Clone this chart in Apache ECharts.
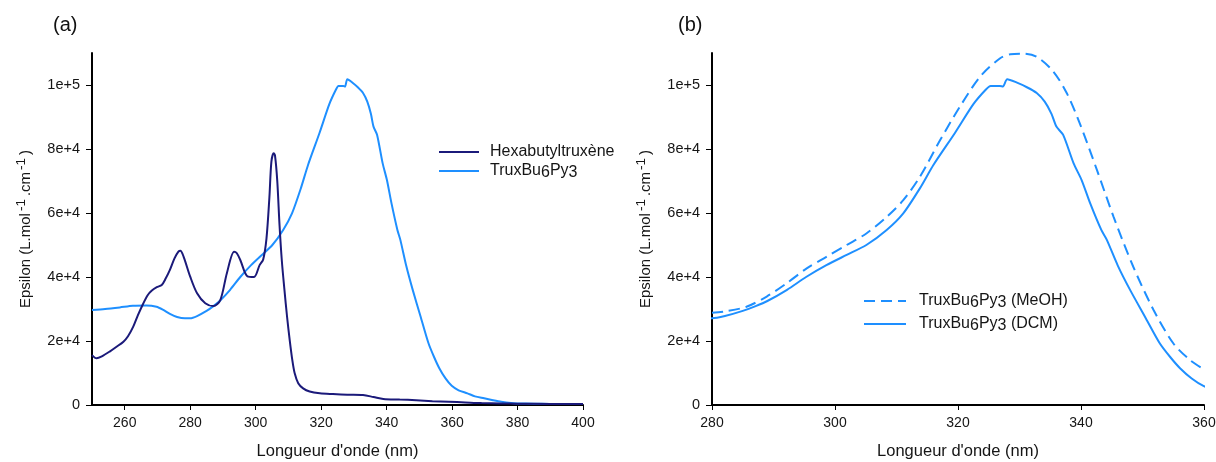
<!DOCTYPE html>
<html>
<head>
<meta charset="utf-8">
<script src="https://cdn.jsdelivr.net/npm/echarts@6/dist/echarts.min.js"></script>
<style>
html,body{margin:0;padding:0;background:#fff;}
#chart{width:1216px;height:462px;}
</style>
</head>
<body>
<div id="chart"></div>
<script>
// ---- Data ----
// Panel (a): Hexabutyltruxène
const hexaNm = [250, 251.4, 253, 255.4, 257.5, 259.6, 261, 262.6, 264, 265.7, 267, 268.2, 269.8, 271.3, 272.5, 273.8, 275.2, 276.4, 277, 278, 280, 282.1, 284.6, 287.1, 289.2, 291.2, 293.4, 294.2, 295.3, 297.5, 299.5, 301.2, 302.3, 303.3, 304.2, 304.8, 305.5, 305.9, 306.6, 307.3, 308, 308.8, 309.6, 310.4, 311.2, 311.9, 313, 314.5, 316.5, 319.6, 323.6, 328, 332.8, 336, 339, 344, 349, 354, 359, 364, 369, 375, 380, 390, 400];
const hexaEps = [15600, 14600, 15200, 16700, 18200, 19800, 21500, 24500, 28000, 31800, 34300, 35700, 36800, 37500, 39500, 42200, 45800, 47900, 48200, 46300, 40100, 34900, 31800, 30900, 32800, 41200, 47900, 47500, 45300, 40200, 40000, 43700, 45500, 52000, 65000, 76000, 78700, 78000, 70000, 56000, 45000, 35900, 27500, 20300, 14000, 10000, 6800, 5200, 4200, 3650, 3400, 3200, 3100, 2500, 1900, 1700, 1500, 1200, 1000, 800, 600, 500, 400, 350, 300];

// TruxBu6Py3 in DCM (panel a blue line, panel b solid line)
const truxNm = [250, 254, 258.5, 262.5, 266.6, 269.7, 271.8, 273.8, 276, 278.4, 280, 282.1, 285, 287.1, 289, 292.2, 295.3, 298.6, 301.9, 305.1, 308.4, 311.1, 313.8, 316, 319.5, 322.5, 324.5, 325.3, 326.8, 327.3, 328, 329.5, 331.2, 332.8, 334.1, 335.2, 336, 337.1, 338.8, 340.1, 341.5, 343.3, 344.2, 346, 348, 350.4, 352.8, 354.5, 356.1, 358, 359.9, 362, 364.7, 367, 369.8, 372.5, 375, 378, 380, 385, 390, 395, 400];
const truxEps = [29700, 30000, 30500, 31000, 31100, 30700, 29700, 28500, 27500, 27100, 27100, 27800, 29400, 30900, 32500, 36000, 40000, 43700, 46900, 50000, 54700, 59900, 67700, 75000, 85000, 94000, 98500, 99700, 99700, 99500, 101800, 100800, 99300, 97500, 94800, 91000, 87000, 84400, 75500, 70300, 63000, 54700, 51600, 43500, 35900, 27600, 19300, 15000, 11500, 8300, 6000, 4600, 3650, 2700, 2100, 1500, 1000, 600, 500, 400, 350, 300, 300];

// Panel (b): TruxBu6Py3 in MeOH
const meohNm = [280, 282, 285.6, 288.9, 292.1, 295.4, 298.6, 301.9, 305.1, 308.4, 311.1, 313.8, 317.1, 320.3, 323.6, 326.8, 328.5, 330.6, 332.8, 335.5, 337.7, 339.8, 342.6, 345.3, 348.5, 351.8, 355, 357.7, 360.2];
const meohEps = [28800, 29200, 30700, 33900, 38000, 42700, 46300, 50000, 53600, 58800, 64000, 71300, 82800, 93200, 102600, 108300, 109600, 109800, 108800, 104200, 97400, 88000, 73400, 58800, 43200, 29700, 19300, 14100, 10900];

// Tick values
const xTicksA = [260, 280, 300, 320, 340, 360, 380, 400];
const xTicksB = [280, 300, 320, 340, 360];
const yTicks = [0, 20000, 40000, 60000, 80000, 100000];

const seriesNames = ['Hexabutyltruxène', 'TruxBu6Py3', 'TruxBu6Py3 (MeOH)', 'TruxBu6Py3 (DCM)'];

// ---- Helpers ----
const zip = (xs, ys) => xs.map((x, i) => [x, ys[i]]);
const DARK = '#1b1a7a';
const BLUE = '#1e8fff';
const FONT = '"Liberation Sans", Arial, sans-serif';
const TXT = '#151515';

function yFmt(v) { return v === 0 ? '0' : v.toExponential(); }
function legendFmt(name) {
  return name.replace(/([^63]+)/g, '{n|$1}').replace(/([63])(?![^{]*\})/g, '{s|$1}');
}
const legendRich = {
  n: { fontFamily: FONT, fontSize: 16, color: TXT, lineHeight: 20 },
  s: { fontFamily: FONT, fontSize: 16, color: TXT, lineHeight: 4, verticalAlign: 'bottom' }
};
const yName = '{n|Epsilon (L.mol}{p|-1}{n|.cm}{p|-1}{n|)}';
const yNameStyle = {
  color: TXT, fontFamily: FONT, fontSize: 15,
  rich: {
    n: { fontFamily: FONT, fontSize: 15, color: TXT },
    p: { fontFamily: FONT, fontSize: 13.5, color: TXT, padding: [0, 3, 10, 2] }
  }
};

function xAxisCfg(gridIndex, min, max, ticks) {
  return {
    type: 'value', gridIndex, min, max,
    name: "Longueur d'onde (nm)", nameLocation: 'middle', nameGap: 38,
    nameTextStyle: { color: TXT, fontFamily: FONT, fontSize: 16.5 },
    axisLine: { show: true, onZero: false, lineStyle: { color: '#000', width: 2 } },
    axisTick: { show: true, length: 5, lineStyle: { color: '#000', width: 1 }, customValues: ticks },
    axisLabel: { color: TXT, fontFamily: FONT, fontSize: 14, margin: 11, customValues: ticks },
    splitLine: { show: false }
  };
}
function yAxisCfg(gridIndex) {
  return {
    type: 'value', gridIndex, min: 0, max: 110000,
    name: yName, nameLocation: 'middle', nameGap: 54, nameTextStyle: yNameStyle,
    axisLine: { show: true, onZero: false, lineStyle: { color: '#000', width: 2 } },
    axisTick: { show: true, length: 6, lineStyle: { color: '#000', width: 1 }, customValues: yTicks },
    axisLabel: { color: TXT, fontFamily: FONT, fontSize: 14.5, margin: 12, formatter: yFmt, customValues: yTicks },
    splitLine: { show: false }
  };
}

const chart = echarts.init(document.getElementById('chart'), null, { renderer: 'canvas' });
chart.setOption({
  animation: false,
  backgroundColor: '#fff',
  grid: [
    { left: 92, right: 633, top: 53, bottom: 57, outerBoundsMode: 'none' },
    { left: 712, right: 12, top: 53, bottom: 57, outerBoundsMode: 'none' }
  ],
  xAxis: [xAxisCfg(0, 250, 400, xTicksA), xAxisCfg(1, 280, 360, xTicksB)],
  yAxis: [yAxisCfg(0), yAxisCfg(1)],
  legend: [
    {
      data: [seriesNames[0], seriesNames[1]], orient: 'vertical', left: 438, top: 144,
      padding: 0, itemWidth: 40, itemHeight: 14, itemGap: 3,
      itemStyle: { opacity: 0 },
      formatter: legendFmt, textStyle: { rich: legendRich, padding: [0, 0, 0, 6] }
    },
    {
      data: [seriesNames[2], seriesNames[3]], orient: 'vertical', left: 863, top: 293,
      padding: 0, itemWidth: 42, itemHeight: 14, itemGap: 5,
      itemStyle: { opacity: 0 },
      formatter: legendFmt, textStyle: { rich: legendRich, padding: [0, 0, 0, 8] }
    }
  ],
  graphic: [
    { type: 'text', left: 53, top: 15, style: { text: '(a)', font: '20px "Liberation Sans", Arial, sans-serif', fill: '#111' } },
    { type: 'text', left: 678, top: 15, style: { text: '(b)', font: '20px "Liberation Sans", Arial, sans-serif', fill: '#111' } }
  ],
  series: [
    {
      name: seriesNames[1], type: 'line', xAxisIndex: 0, yAxisIndex: 0, data: zip(truxNm, truxEps),
      symbol: 'none', smooth: 0.25, lineStyle: { color: BLUE, width: 2 }, itemStyle: { color: BLUE }
    },
    {
      name: seriesNames[0], type: 'line', xAxisIndex: 0, yAxisIndex: 0, data: zip(hexaNm, hexaEps),
      symbol: 'none', smooth: 0.3, lineStyle: { color: DARK, width: 2 }, itemStyle: { color: DARK }
    },
    {
      name: seriesNames[2], type: 'line', xAxisIndex: 1, yAxisIndex: 1, data: zip(meohNm, meohEps),
      symbol: 'none', smooth: 0.3, lineStyle: { color: BLUE, width: 2, type: [11, 6] }, itemStyle: { color: BLUE }
    },
    {
      name: seriesNames[3], type: 'line', xAxisIndex: 1, yAxisIndex: 1, data: zip(truxNm, truxEps),
      symbol: 'none', smooth: 0.25, clip: true, lineStyle: { color: BLUE, width: 2 }, itemStyle: { color: BLUE }
    }
  ]
});
</script>
</body>
</html>
